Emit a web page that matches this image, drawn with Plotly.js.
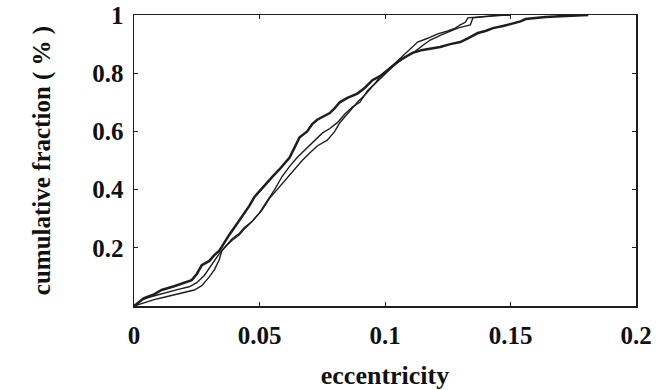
<!DOCTYPE html>
<html>
<head>
<meta charset="utf-8">
<script src="https://cdn.plot.ly/plotly-3.0.1.min.js"></script>
<style>html,body{margin:0;padding:0;background:#fff;}#chart{width:672px;height:390px;}</style>
</head>
<body>
<div id="chart"></div>
<script>
// Series A (thick line)
const seriesAX = [0, 0.002, 0.004, 0.008, 0.011, 0.016, 0.020, 0.023, 0.025, 0.027, 0.030, 0.032, 0.034, 0.036, 0.038, 0.040, 0.042, 0.044, 0.046, 0.048, 0.051, 0.053, 0.055, 0.058, 0.060, 0.062, 0.064, 0.066, 0.069, 0.071, 0.073, 0.076, 0.078, 0.080, 0.082, 0.085, 0.089, 0.092, 0.095, 0.098, 0.101, 0.103, 0.106, 0.109, 0.111, 0.115, 0.119, 0.122, 0.126, 0.130, 0.133, 0.137, 0.140, 0.143, 0.147, 0.151, 0.154, 0.156, 0.160, 0.164, 0.170, 0.176, 0.181];
const seriesAY = [0, 0.015, 0.027, 0.040, 0.055, 0.068, 0.080, 0.089, 0.11, 0.14, 0.155, 0.175, 0.19, 0.22, 0.245, 0.27, 0.295, 0.32, 0.345, 0.375, 0.405, 0.425, 0.443, 0.47, 0.49, 0.51, 0.545, 0.58, 0.60, 0.625, 0.64, 0.655, 0.663, 0.68, 0.70, 0.715, 0.73, 0.75, 0.776, 0.79, 0.81, 0.825, 0.845, 0.86, 0.87, 0.88, 0.885, 0.89, 0.90, 0.907, 0.92, 0.938, 0.945, 0.955, 0.962, 0.97, 0.978, 0.986, 0.99, 0.993, 0.996, 0.998, 1.0];
// Series B (thin line)
const seriesBX = [0, 0.003, 0.006, 0.010, 0.014, 0.018, 0.022, 0.025, 0.028, 0.030, 0.032, 0.034, 0.036, 0.039, 0.042, 0.044, 0.047, 0.050, 0.053, 0.056, 0.059, 0.062, 0.065, 0.069, 0.072, 0.075, 0.078, 0.081, 0.084, 0.087, 0.090, 0.093, 0.096, 0.098, 0.101, 0.104, 0.107, 0.110, 0.113, 0.117, 0.121, 0.125, 0.128, 0.130, 0.132, 0.133, 0.137, 0.142, 0.146, 0.150];
const seriesBY = [0, 0.02, 0.03, 0.04, 0.05, 0.058, 0.066, 0.08, 0.105, 0.13, 0.155, 0.18, 0.20, 0.225, 0.245, 0.265, 0.29, 0.32, 0.36, 0.40, 0.445, 0.48, 0.51, 0.545, 0.57, 0.594, 0.61, 0.63, 0.66, 0.684, 0.70, 0.74, 0.765, 0.787, 0.81, 0.835, 0.86, 0.885, 0.907, 0.92, 0.935, 0.945, 0.955, 0.966, 0.975, 0.99, 0.994, 0.997, 0.999, 1.0];
// Series C (thin line)
const seriesCX = [0, 0.004, 0.008, 0.012, 0.016, 0.020, 0.024, 0.027, 0.030, 0.032, 0.034, 0.035, 0.037, 0.039, 0.042, 0.044, 0.047, 0.051, 0.054, 0.057, 0.061, 0.064, 0.067, 0.070, 0.073, 0.077, 0.080, 0.082, 0.085, 0.089, 0.092, 0.095, 0.098, 0.101, 0.104, 0.108, 0.112, 0.115, 0.118, 0.122, 0.126, 0.129, 0.132, 0.134, 0.135, 0.140, 0.145, 0.150];
const seriesCY = [0, 0.012, 0.022, 0.030, 0.038, 0.045, 0.055, 0.07, 0.10, 0.124, 0.16, 0.19, 0.21, 0.23, 0.25, 0.27, 0.29, 0.33, 0.37, 0.40, 0.443, 0.47, 0.50, 0.526, 0.55, 0.57, 0.60, 0.63, 0.66, 0.70, 0.725, 0.755, 0.78, 0.805, 0.83, 0.855, 0.875, 0.895, 0.914, 0.93, 0.945, 0.955, 0.962, 0.966, 0.99, 0.995, 0.998, 1.0];

const xTickVals = [0, 0.05, 0.1, 0.15, 0.2];
const xTickText = ["0", "0.05", "0.1", "0.15", "0.2"];
const yTickVals = [0.2, 0.4, 0.6, 0.8, 1];
const yTickText = ["0.2", "0.4", "0.6", "0.8", "1"];

const ink = '#1e1e1e';
const traces = [
  {x: seriesBX, y: seriesBY, mode: 'lines', line: {color: ink, width: 1.4}, hoverinfo: 'skip'},
  {x: seriesCX, y: seriesCY, mode: 'lines', line: {color: ink, width: 1.4}, hoverinfo: 'skip'},
  {x: seriesAX, y: seriesAY, mode: 'lines', line: {color: ink, width: 2.5}, hoverinfo: 'skip'}
];

const fam = '"Liberation Serif", "Times New Roman", serif';
const layout = {
  width: 672, height: 390,
  margin: {l: 134, r: 36, t: 15, b: 84},
  paper_bgcolor: '#fff', plot_bgcolor: '#fff',
  showlegend: false,
  font: {family: fam, size: 24, color: '#111'},
  xaxis: {
    range: [0, 0.2], tickvals: xTickVals, ticktext: xTickText,
    ticks: 'inside', ticklen: 4, tickwidth: 1, tickcolor: ink,
    showline: true, linecolor: ink, linewidth: 1.5, mirror: 'ticks',
    showgrid: false, zeroline: false, ticklabelstandoff: 6,
    tickfont: {family: fam, size: 25, color: '#111', weight: 'bold'},
    title: {text: '<b>eccentricity</b>', font: {family: fam, size: 26, color: '#111'}, standoff: 18}
  },
  yaxis: {
    range: [0, 1], tickvals: yTickVals, ticktext: yTickText,
    ticks: 'inside', ticklen: 4, tickwidth: 1, tickcolor: ink,
    showline: true, linecolor: ink, linewidth: 1.5, mirror: 'ticks',
    showgrid: false, zeroline: false, ticklabelstandoff: 4,
    tickfont: {family: fam, size: 25, color: '#111', weight: 'bold'},
    title: {text: '<b>cumulative fraction ( % )</b>', font: {family: fam, size: 25, color: '#111'}, standoff: 34}
  }
};

Plotly.newPlot('chart', traces, layout, {staticPlot: true, displayModeBar: false});
</script>
</body>
</html>
